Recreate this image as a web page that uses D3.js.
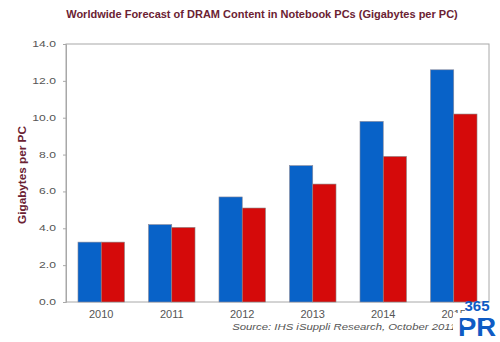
<!DOCTYPE html>
<html>
<head>
<meta charset="utf-8">
<script src="https://cdn.jsdelivr.net/npm/d3@7"></script>
<style>
body { margin: 0; background: #fff; }
text { font-family: "Liberation Sans", Arial, sans-serif; }
</style>
</head>
<body>
<div id="chart"></div>
<script>
var years = ["2010", "2011", "2012", "2013", "2014", "2015"];
var seriesA = [3.25, 4.2, 5.7, 7.4, 9.8, 12.6];
var seriesB = [3.25, 4.05, 5.1, 6.4, 7.9, 10.2];
var yTicks = [0, 2, 4, 6, 8, 10, 12, 14];

var width = 500, height = 342;
var margin = { top: 44, right: 11, bottom: 40, left: 66 };

var svg = d3.select("#chart")
    .append("svg")
    .attr("width", width)
    .attr("height", height);

var x = d3.scaleBand()
    .domain(years)
    .range([margin.left, width - margin.right])
    .paddingInner(0.34)
    .paddingOuter(0.17);

var x1 = d3.scaleBand()
    .domain(["a", "b"])
    .range([0, x.bandwidth()]);

var y = d3.scaleLinear()
    .domain([0, 14])
    .range([height - margin.bottom, margin.top]);

// plot frame
svg.append("rect")
    .attr("x", margin.left)
    .attr("y", margin.top)
    .attr("width", width - margin.left - margin.right)
    .attr("height", height - margin.top - margin.bottom)
    .attr("fill", "none")
    .attr("stroke", "#a8a8a8")
    .attr("stroke-width", 1);

// left axis ticks (labels drawn separately, they look stretched in the original)
var yAxis = svg.append("g")
    .attr("transform", "translate(" + margin.left + ",0)")
    .call(d3.axisLeft(y).tickValues(yTicks).tickFormat("").tickSize(3));
yAxis.select(".domain").attr("stroke", "#a8a8a8");
yAxis.selectAll(".tick line").attr("stroke", "#a8a8a8");

svg.append("g")
    .selectAll("text")
    .data(yTicks)
    .enter()
    .append("text")
    .attr("transform", function(d) { return "translate(56," + (y(d) + 3) + ") scale(1.35,1)"; })
    .attr("text-anchor", "end")
    .attr("font-size", 9)
    .attr("fill", "#555")
    .text(function(d) { return d3.format(".1f")(d); });

// bottom labels
svg.append("g")
    .selectAll("text")
    .data(years)
    .enter()
    .append("text")
    .attr("x", function(d) { return x(d) + x.bandwidth() / 2; })
    .attr("y", height - margin.bottom + 16)
    .attr("text-anchor", "middle")
    .attr("font-size", 11)
    .attr("fill", "#555")
    .text(function(d) { return d; });

var groups = svg.append("g")
    .selectAll("g")
    .data(years)
    .enter()
    .append("g")
    .attr("transform", function(d) { return "translate(" + x(d) + ",0)"; });

groups.append("rect")
    .attr("x", x1("a"))
    .attr("y", function(d, i) { return y(seriesA[i]); })
    .attr("width", x1.bandwidth())
    .attr("height", function(d, i) { return y(0) - y(seriesA[i]); })
    .attr("fill", "#0862c8")
    .attr("stroke", "#8a8a9a")
    .attr("stroke-width", 0.6);

groups.append("rect")
    .attr("x", x1("b"))
    .attr("y", function(d, i) { return y(seriesB[i]); })
    .attr("width", x1.bandwidth())
    .attr("height", function(d, i) { return y(0) - y(seriesB[i]); })
    .attr("fill", "#d50a0a")
    .attr("stroke", "#8a8a8a")
    .attr("stroke-width", 0.6);

// title
svg.append("text")
    .attr("x", 262)
    .attr("y", 18)
    .attr("text-anchor", "middle")
    .attr("font-size", 11)
    .attr("font-weight", "bold")
    .attr("fill", "#6b2233")
    .text("Worldwide Forecast of DRAM Content in Notebook PCs (Gigabytes per PC)");

// y axis title
svg.append("text")
    .attr("transform", "translate(26," + ((margin.top + height - margin.bottom) / 2 + 2) + ") rotate(-90) scale(1.12,1)")
    .attr("text-anchor", "middle")
    .attr("font-size", 10.5)
    .attr("font-weight", "bold")
    .attr("fill", "#6b2233")
    .text("Gigabytes per PC");

// source
svg.append("text")
    .attr("transform", "translate(456,330) scale(1.26,1)")
    .attr("text-anchor", "end")
    .attr("font-size", 9)
    .attr("font-style", "italic")
    .attr("fill", "#555")
    .text("Source: IHS iSuppli Research, October 2011");

// watermark logo
var wm = svg.append("g");
wm.append("text")
    .attr("x", 477).attr("y", 311)
    .attr("text-anchor", "middle")
    .attr("font-size", 15)
    .attr("font-weight", "bold")
    .attr("fill", "#0f5bc4")
    .text("365");
wm.append("rect")
    .attr("x", 453).attr("y", 313).attr("width", 47).attr("height", 29)
    .attr("fill", "#fff");
wm.append("text")
    .attr("transform", "translate(477,336) scale(1.25,1.2)")
    .attr("text-anchor", "middle")
    .attr("font-size", 22)
    .attr("font-weight", "bold")
    .attr("fill", "#0f5bc4")
    .text("PR");
wm.selectAll("circle")
    .data([[465, 323], [487, 323]])
    .enter()
    .append("circle")
    .attr("cx", function(d) { return d[0]; })
    .attr("cy", function(d) { return d[1]; })
    .attr("r", 3)
    .attr("fill", "#fff");
</script>
</body>
</html>
